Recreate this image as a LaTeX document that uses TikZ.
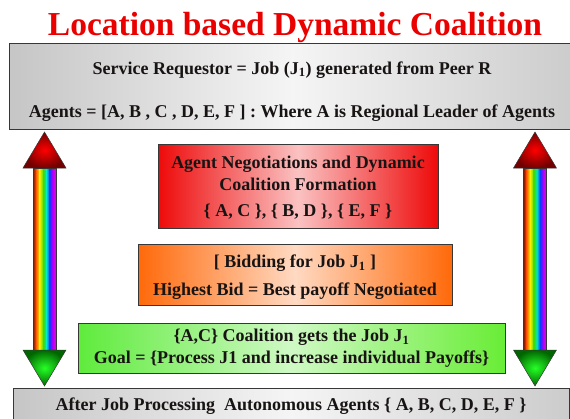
\documentclass[tikz,border=0pt]{standalone}
\usepackage{fontspec}
\setmainfont{Liberation Serif}
\usetikzlibrary{positioning}

\definecolor{titlered}{RGB}{235,0,0}
\definecolor{panelink}{RGB}{25,20,20}
\definecolor{panelline}{RGB}{55,55,55}
\definecolor{boxred}{RGB}{238,10,10}
\definecolor{boxorange}{RGB}{255,105,10}
\definecolor{boxgreen}{RGB}{95,235,60}
% stripes of the arrow shafts
\definecolor{rbA}{RGB}{130,20,0}
\definecolor{rbB}{RGB}{255,100,0}
\definecolor{rbC}{RGB}{255,240,0}
\definecolor{rbD}{RGB}{60,220,0}
\definecolor{rbE}{RGB}{0,225,210}
\definecolor{rbF}{RGB}{0,60,255}
\definecolor{rbG}{RGB}{170,0,255}
\definecolor{rbH}{RGB}{255,0,200}

\begin{document}
\begin{tikzpicture}[
  x=1pt,y=-1pt,
  node distance=15pt,
  heading/.style={font=\fontsize{33.5}{36}\selectfont\bfseries,text=titlered,inner sep=0pt},
  panel/.style={draw=panelline,line width=0.7pt,align=center,inner sep=0pt,
    font=\fontsize{18}{22}\selectfont\bfseries,text=panelink},
  graypanel/.style={panel,left color=gray!45,right color=gray!40,middle color=gray!8},
  redpanel/.style={panel,left color=boxred,right color=boxred,middle color=boxred!25!white},
  orangepanel/.style={panel,left color=boxorange,right color=boxorange,middle color=boxorange!25!white},
  greenpanel/.style={panel,left color=boxgreen,right color=boxgreen!90!lime,middle color=boxgreen!30!white},
  outline/.style={draw=panelline,line width=0.5pt},
  uphead/.style={outline,inner color=red,outer color=red!45!black},
  downhead/.style={outline,inner color=green!85!white,outer color=green!40!black}
]
  \useasboundingbox (0,0) rectangle (570,418);

  \node[heading,anchor=base] (heading) at (295,35) {Location based Dynamic Coalition};

  \node[graypanel,minimum width=566pt,minimum height=86pt] (requestor) at (292,86)
    {\rule{0pt}{23pt}Service Requestor = Job (J\textsubscript{1}) generated from Peer R\\[21pt]
     Agents = [A, B , C , D, E, F ] : Where A is Regional Leader of Agents};
  \node[redpanel,below=of requestor,xshift=6pt,minimum width=280pt,minimum height=84pt] (negotiation)
    {\rule{0pt}{15pt}Agent Negotiations and Dynamic\\Coalition Formation\\[4pt]
     \{ A, C \}, \{ B, D \}, \{ E, F \}};
  \node[orangepanel,below=of negotiation,xshift=-3pt,minimum width=314pt,minimum height=61pt] (bidding)
    {\rule{0pt}{17pt}[ Bidding for Job J\textsubscript{1} ]\\[6pt]
     Highest Bid = Best payoff Negotiated};
  \node[greenpanel,below=17pt of bidding,xshift=-3.5pt,minimum width=427pt,minimum height=50pt] (award)
    {\{A,C\} Coalition gets the Job J\textsubscript{1}\\
     Goal = \{Process J1 and increase individual Payoffs\}};
  \node[graypanel,below=of award,xshift=-0.5pt,minimum width=556pt,minimum height=34pt] (release)
    {After Job Processing\ \ Autonomous Agents \{ A, B, C, D, E, F \}};

  % rainbow double arrows on both sides
  \foreach \ax in {44.5,535} {
    \foreach \ca/\cb/\xa/\xb in {rbA/rbB/0/3.2,rbB/rbC/3.2/6.4,rbC/rbD/6.4/10.1,rbD/rbE/10.1/13.3,
                                 rbE/rbF/13.3/16.3,rbF/rbG/16.3/19.3,rbG/rbH/19.3/23}
      \shade[left color=\ca,right color=\cb] (\ax-11.5+\xa,168) rectangle (\ax-11.2+\xb,350);
    \draw[outline] (\ax-11.5,168) rectangle (\ax+11.5,350);
    \shade[uphead] (\ax-21.5,168) -- (\ax,132) -- (\ax+21.5,168) -- cycle;
    \shade[downhead] (\ax-21.5,350) -- (\ax+21.5,350) -- (\ax,386) -- cycle;
  }
\end{tikzpicture}
\end{document}
